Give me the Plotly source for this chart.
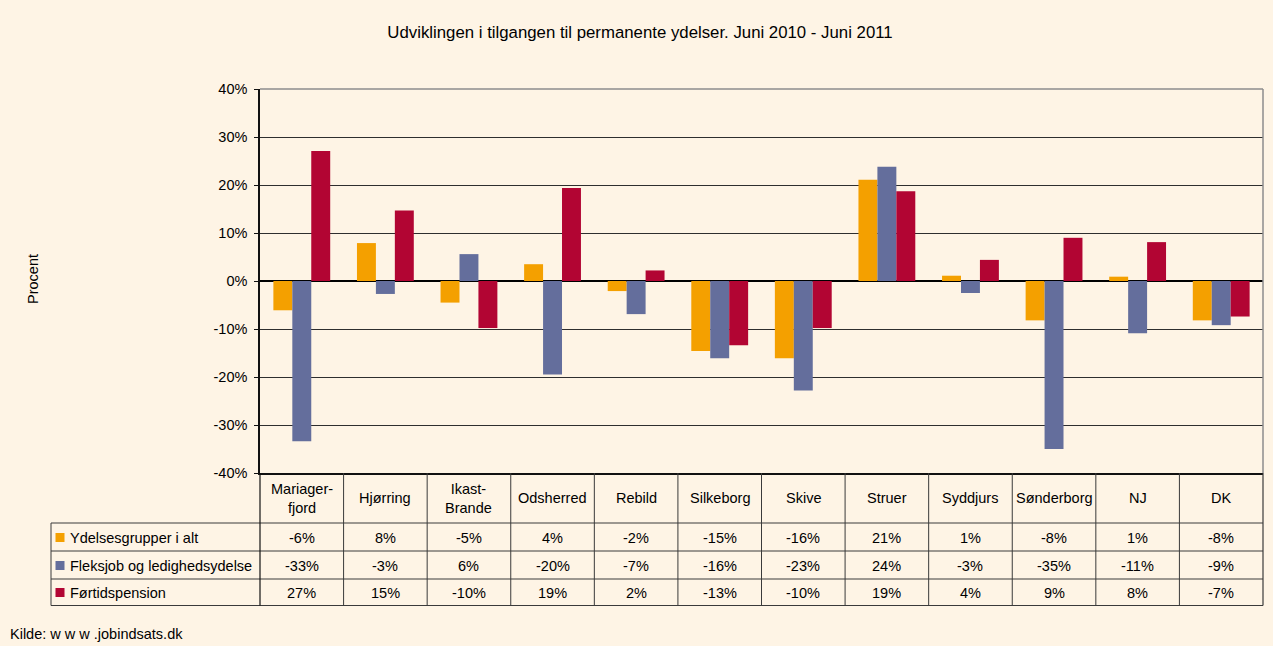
import math
import plotly.graph_objects as go

# ---------------- data ----------------
categories = ["Mariager-<br>fjord", "Hjørring", "Ikast-<br>Brande", "Odsherred", "Rebild",
              "Silkeborg", "Skive", "Struer", "Syddjurs", "Sønderborg", "NJ", "DK"]
series_names = ["Ydelsesgrupper i alt", "Fleksjob og ledighedsydelse", "Førtidspension"]
ydelser_i_alt = [-6.1, 7.9, -4.5, 3.5, -2.1, -14.6, -16.1, 21.1, 1.1, -8.2, 0.9, -8.2]
fleksjob = [-33.4, -2.7, 5.6, -19.5, -6.9, -16.1, -22.8, 23.8, -2.5, -35.0, -10.9, -9.2]
foertidspension = [27.1, 14.7, -9.8, 19.4, 2.2, -13.4, -9.8, 18.7, 4.4, 9.0, 8.1, -7.4]
y_ticks = [-40, -30, -20, -10, 0, 10, 20, 30, 40]
title_text = "Udviklingen i tilgangen til permanente ydelser. Juni 2010 - Juni 2011"
y_title = "Procent"
source_text = "Kilde: w w w .jobindsats.dk"

series_values = [ydelser_i_alt, fleksjob, foertidspension]
colors = ["#F4A000", "#646E9C", "#B20533"]

# ---------------- geometry ----------------
W, H = 1273, 646
L, R, T, B = 260, 10, 89, 173
PW, PH = W - L - R, H - T - B
BG = "#FEF4E5"
FONT = "Liberation Sans, Arial, sans-serif"
LINE = "#3a3a3a"
FS = 14.5


def px_x(p):
    return (p - L) / PW


def px_y(p):
    return (T + PH - p) / PH


def fmt(v):
    s = -1 if v < 0 else 1
    return f"{s * int(math.floor(abs(v) + 0.5))}%"


fig = go.Figure()
for name, vals, col in zip(series_names, series_values, colors):
    fig.add_trace(go.Bar(x=categories, y=vals, name=name, marker=dict(color=col, line=dict(width=0)),
                         showlegend=False))

shapes = []
annotations = []

# table geometry (pixel rows)
header_bottom = 523
row_lines = [523, 551, 579, 605.5]
row_centers = [537.5, 565.5, 592.5]
header_center = 498
table_left = 51

for yl in row_lines:
    shapes.append(dict(type="line", xref="paper", yref="paper", x0=px_x(table_left), x1=1,
                       y0=px_y(yl), y1=px_y(yl), line=dict(color=LINE, width=1)))
shapes.append(dict(type="line", xref="paper", yref="paper", x0=px_x(table_left), x1=px_x(table_left),
                   y0=px_y(header_bottom), y1=px_y(row_lines[-1]), line=dict(color=LINE, width=1)))
shapes.append(dict(type="line", xref="paper", yref="paper", x0=0, x1=0,
                   y0=0, y1=px_y(row_lines[-1]), line=dict(color="#111111", width=1.2)))
shapes.append(dict(type="line", xref="paper", yref="paper", x0=1, x1=1,
                   y0=0, y1=px_y(row_lines[-1]), line=dict(color=LINE, width=1.2)))
for i in range(1, len(categories)):
    shapes.append(dict(type="line", xref="x", yref="paper", x0=i - 0.5, x1=i - 0.5,
                       y0=0, y1=px_y(row_lines[-1]), line=dict(color=LINE, width=1)))
shapes.append(dict(type="line", xref="paper", yref="paper", x0=0, x1=1, y0=1, y1=1,
                   line=dict(color="#8c8c8c", width=1.5), layer="above"))
shapes.append(dict(type="line", xref="paper", yref="paper", x0=1, x1=1, y0=0, y1=1,
                   line=dict(color="#8c8c8c", width=1.5), layer="above"))

for c in categories:
    annotations.append(dict(x=c, xref="x", y=px_y(header_center), yref="paper", text=c,
                            showarrow=False, font=dict(size=FS, color="black", family=FONT),
                            xanchor="center", yanchor="middle"))
for r, (name, vals, col) in enumerate(zip(series_names, series_values, colors)):
    yc = px_y(row_centers[r])
    for c, v in zip(categories, vals):
        annotations.append(dict(x=c, xref="x", y=yc, yref="paper", text=fmt(v), showarrow=False,
                                font=dict(size=FS, color="black", family=FONT),
                                xanchor="center", yanchor="middle"))
    annotations.append(dict(x=px_x(68), xref="paper", y=yc, yref="paper", text=name, showarrow=False,
                            font=dict(size=FS, color="black", family=FONT),
                            xanchor="left", yanchor="middle"))
    shapes.append(dict(type="rect", xref="paper", yref="paper", x0=px_x(55.5), x1=px_x(64.5),
                       y0=px_y(row_centers[r] + 4.5), y1=px_y(row_centers[r] - 4.5),
                       fillcolor=col, line=dict(width=0)))

annotations.append(dict(x=px_x(33), xref="paper", y=px_y(279), yref="paper", text=y_title,
                        textangle=-90, showarrow=False, font=dict(size=FS, color="black", family=FONT),
                        xanchor="center", yanchor="middle"))
annotations.append(dict(x=px_x(8), xref="paper", y=px_y(634), yref="paper", text=source_text,
                        showarrow=False, font=dict(size=FS, color="black", family=FONT),
                        xanchor="left", yanchor="middle"))

fig.update_layout(
    width=W, height=H,
    margin=dict(l=L, r=R, t=T, b=B, pad=0),
    paper_bgcolor=BG, plot_bgcolor=BG,
    barmode="group", bargap=0.32, bargroupgap=0,
    title=dict(text=title_text, x=640 / W, xref="container", xanchor="center",
               y=1 - 32 / H, yref="container", yanchor="middle",
               font=dict(size=16.8, color="black", family=FONT)),
    font=dict(family=FONT, color="black"),
    xaxis=dict(type="category", range=[-0.5, len(categories) - 0.5], showticklabels=False,
               showgrid=False, showline=True, linecolor="#111111", linewidth=1.5, ticks="",
               zeroline=False, fixedrange=True),
    yaxis=dict(range=[-40, 40], tickvals=y_ticks, ticktext=[f"{v}%" for v in y_ticks],
               showgrid=True, gridcolor="#2e2e2e", gridwidth=1,
               zeroline=True, zerolinecolor="black", zerolinewidth=1.5,
               showline=True, linecolor="#111111", linewidth=1.5,
               ticks="outside", ticklen=4, tickcolor="#111111", ticklabelstandoff=4,
               tickfont=dict(size=FS, color="black", family=FONT), fixedrange=True),
    shapes=shapes,
    annotations=annotations,
)

fig.write_html("out.html", config={"displayModeBar": False},
               post_script="document.body.style.margin='0';document.body.style.background='" + BG + "';")
